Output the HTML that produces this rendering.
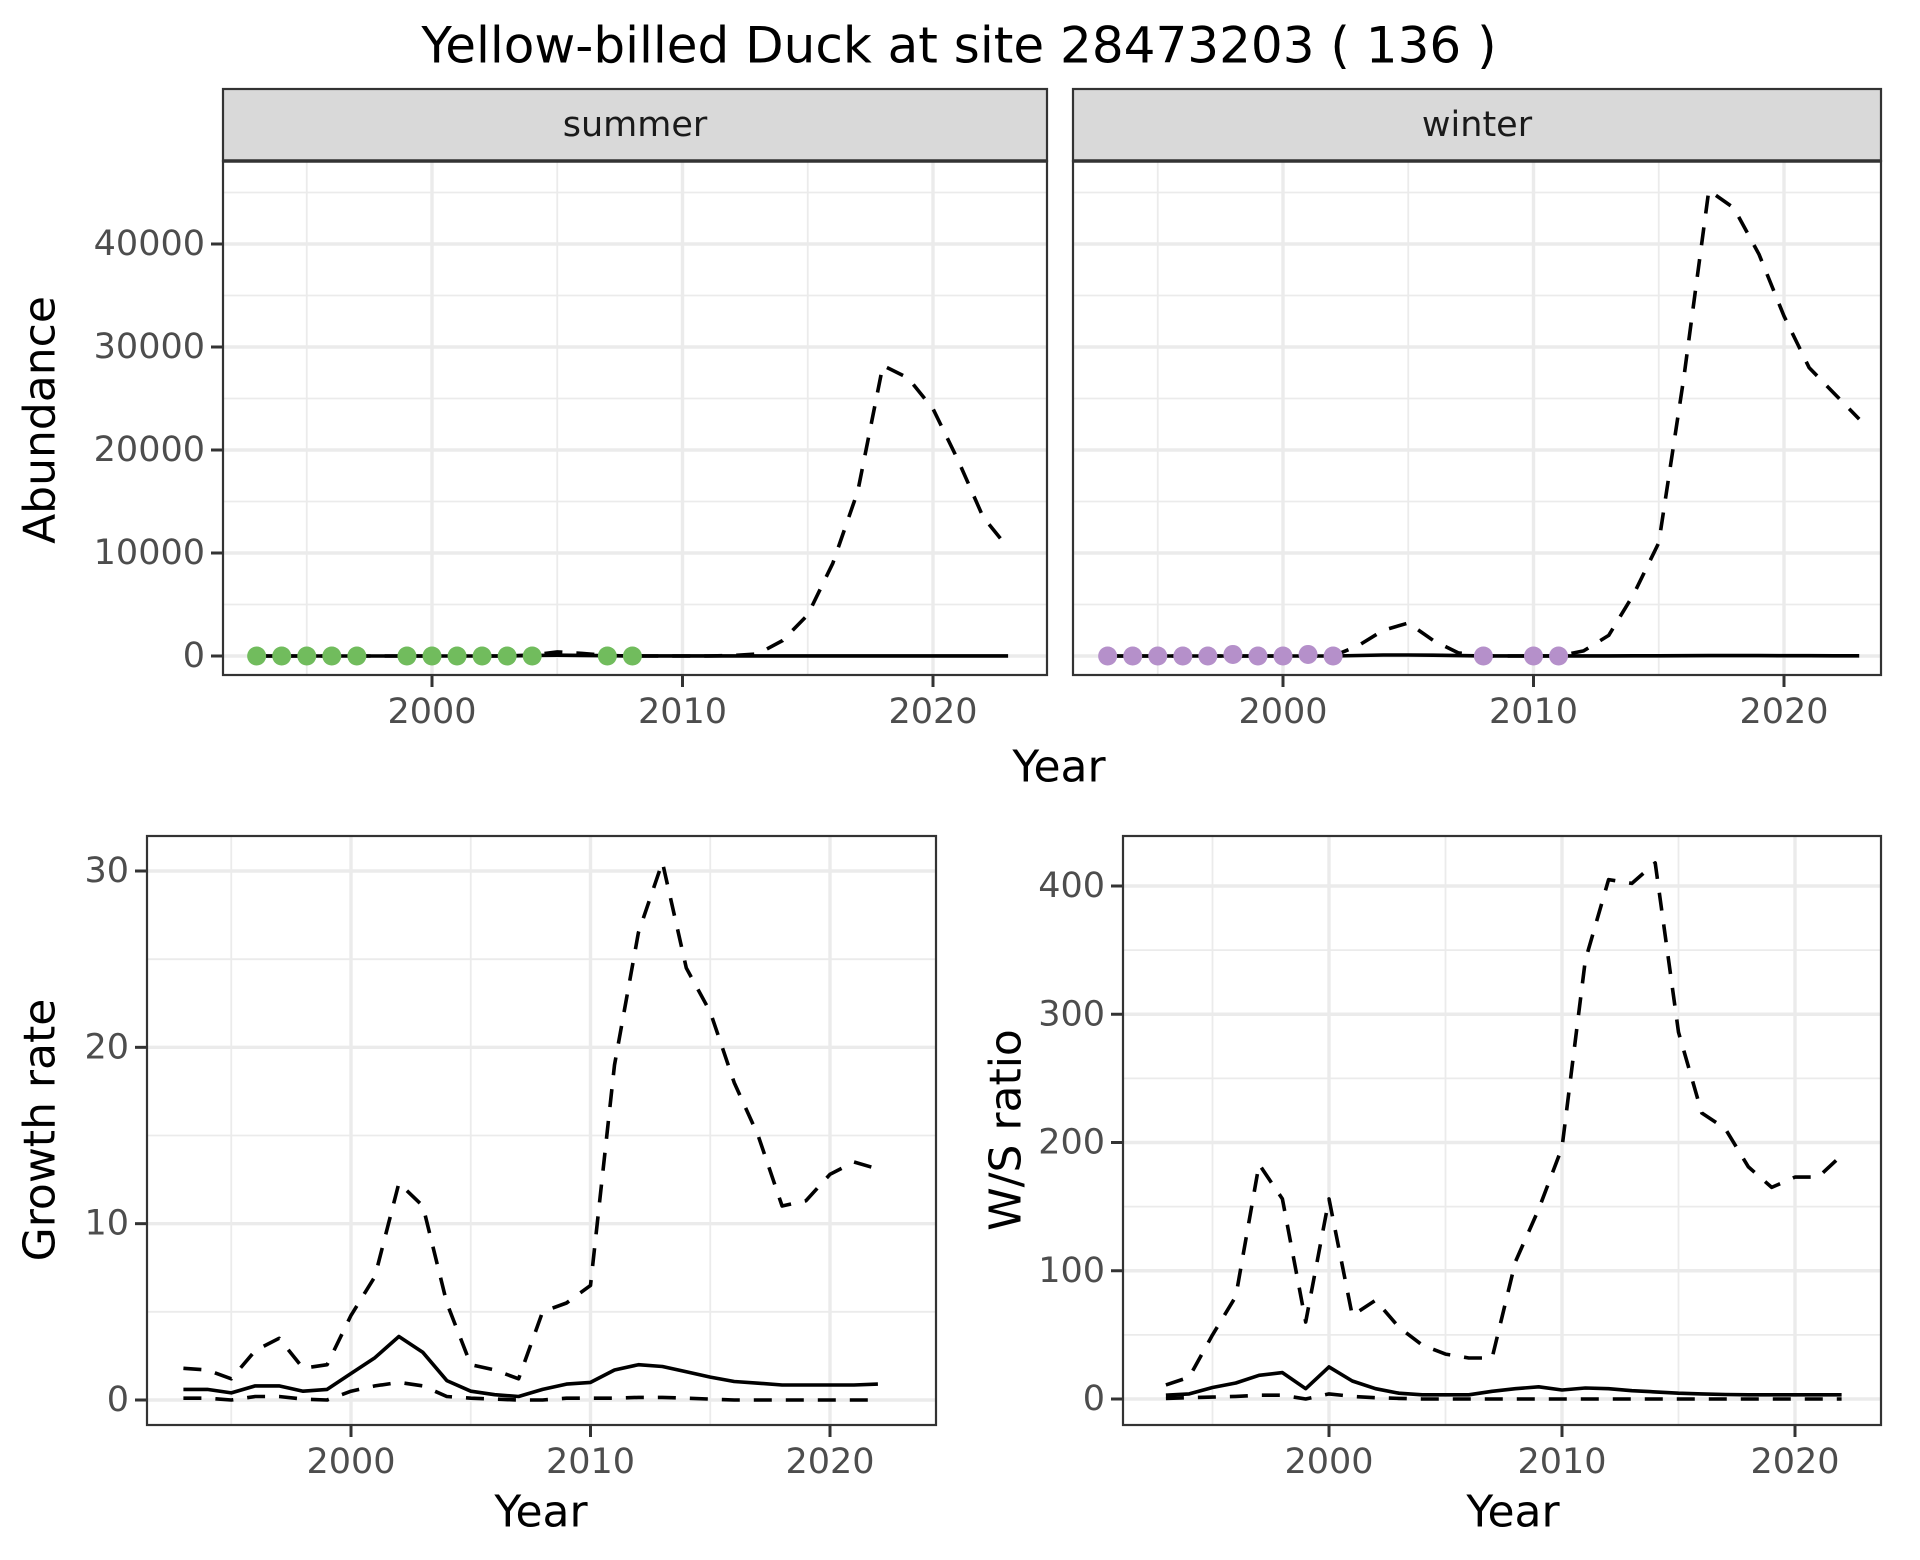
<!DOCTYPE html>
<html><head><meta charset="utf-8"><style>
html,body{margin:0;padding:0;background:#fff}
svg{display:block;font-family:"DejaVu Sans","Liberation Sans",sans-serif}
</style></head><body>
<svg id="c" width="1920" height="1560" xmlns="http://www.w3.org/2000/svg">
<rect width="1920" height="1560" fill="#fff"/>
<text x="959" y="49" font-size="50" text-anchor="middle" dominant-baseline="middle" fill="#000">Yellow-billed Duck at site 28473203 ( 136 )</text>
</svg>
<script>
const years = [1993,1994,1995,1996,1997,1998,1999,2000,2001,2002,2003,2004,2005,2006,2007,2008,2009,2010,2011,2012,2013,2014,2015,2016,2017,2018,2019,2020,2021,2022,2023];
const summerUpper = [0,0,0,0,0,0,0,0,0,0,0,100,400,250,50,0,0,0,0,50,200,1500,4000,9000,16000,28200,27000,24000,19000,13500,10500];
const summerMean = [0,0,0,0,0,0,0,0,0,0,0,50,80,60,30,10,10,10,10,10,10,10,10,10,10,10,10,10,10,10,10];
const summerObsYears = [1993,1994,1995,1996,1997,1999,2000,2001,2002,2003,2004,2007,2008];
const summerObs = [0,0,0,0,0,0,0,0,0,0,0,0,0];
const winterUpper = [0,0,0,0,0,0,0,0,0,0,1000,2500,3200,1500,300,0,0,0,0,500,2000,6000,11000,27000,45200,43500,39000,33000,28000,25500,23000];
const winterMean = [0,0,0,0,0,0,0,0,0,0,50,100,100,80,40,10,10,10,10,10,10,20,20,30,40,40,40,30,30,20,20];
const winterObsYears = [1993,1994,1995,1996,1997,1998,1999,2000,2001,2002,2008,2010,2011];
const winterObs = [0,0,0,0,0,150,0,0,150,0,0,0,0];
const gYears = [1993,1994,1995,1996,1997,1998,1999,2000,2001,2002,2003,2004,2005,2006,2007,2008,2009,2010,2011,2012,2013,2014,2015,2016,2017,2018,2019,2020,2021,2022];
const growthUpper = [1.8,1.7,1.2,2.8,3.5,1.8,2.0,4.8,7.0,12.3,11.0,5.5,2.0,1.7,1.2,5.0,5.5,6.5,19,26.5,30.5,24.5,22,18,15,11,11.3,12.8,13.5,13.1];
const growthMean = [0.6,0.6,0.4,0.8,0.8,0.5,0.6,1.5,2.4,3.6,2.7,1.1,0.5,0.3,0.2,0.6,0.9,1.0,1.7,2.0,1.9,1.6,1.3,1.05,0.95,0.85,0.85,0.85,0.85,0.9];
const growthLower = [0.1,0.1,0,0.2,0.2,0.05,0,0.5,0.8,1.0,0.8,0.2,0.1,0.05,0,0,0.1,0.1,0.1,0.15,0.15,0.1,0.05,0,0,0,0,0,0,0];
const ratioUpper = [11,17,50,80,183,156,60,156,65,77,56,42,35,32,32,107,148,196,342,405,402,418,286,223,211,181,165,173,173,190];
const ratioMean = [3,4,9,12.5,18.5,20.6,8,25,14,8,4.5,3.3,3.3,3.3,6,8,9.5,7,8.6,8,6.5,5.5,4.5,4,3.5,3.3,3.3,3.3,3.3,3.3];
const ratioLower = [0.5,1,1.5,2,3,3,0,4,2,1,0.5,0,0,0,0,0,0,0,0,0,0,0,0,0,0,0,0,0,0,0];
const topYTicks = [0,10000,20000,30000,40000];
const topYMinor = [5000,15000,25000,35000,45000];
const xTicks = [2000,2010,2020];
const xMinor = [1995,2005,2015];
const gYTicks = [0,10,20,30];
const gYMinor = [5,15,25];
const rYTicks = [0,100,200,300,400];
const rYMinor = [50,150,250,350];

const svg = document.getElementById('c');
const NS = 'http://www.w3.org/2000/svg';
function mk(tag, attrs, parent){
  const e = document.createElementNS(NS, tag);
  for (const k in attrs) e.setAttribute(k, attrs[k]);
  (parent||svg).appendChild(e);
  return e;
}
function lin(d0,d1,r0,r1){return v => r0 + (v-d0)/(d1-d0)*(r1-r0);}

function panel(o){
  const g = mk('g', {});
  
  
  const X = o.x, Y = o.y;
  mk('rect', {x:o.l, y:o.t, width:o.r-o.l, height:o.b-o.t, fill:'#fff'}, g);
  o.yMinor.forEach(v=>{ const l = mk('line',{x1:o.l,x2:o.r,y1:Y(v),y2:Y(v),stroke:'#EBEBEB','stroke-width':1.8},g);
      });
  o.xMinor.forEach(v=>{ const l = mk('line',{y1:o.t,y2:o.b,x1:X(v),x2:X(v),stroke:'#EBEBEB','stroke-width':1.8},g);
      });
  o.yTicks.forEach(v=>{ const l = mk('line',{x1:o.l,x2:o.r,y1:Y(v),y2:Y(v),stroke:'#EBEBEB','stroke-width':3.4},g);
      });
  o.xTicks.forEach(v=>{ const l = mk('line',{y1:o.t,y2:o.b,x1:X(v),x2:X(v),stroke:'#EBEBEB','stroke-width':3.4},g);
      });
  o.series.forEach(s=>{
    const pts = s.xs.map((xv,i)=>X(xv).toFixed(1)+','+Y(s.ys[i]).toFixed(1)).join(' ');
    const p = mk('polyline',{points:pts,fill:'none',stroke:'#000','stroke-width':3.6,'stroke-linejoin':'round','stroke-dasharray':s.dash?'18,14':'none'},g);
    
    
  });
  if (o.points){
    o.points.xs.forEach((xv,i)=>{
      const c = mk('circle',{cx:X(xv),cy:Y(o.points.ys[i]),r:9.5,fill:o.points.color},g);
      
      
    });
  }
  mk('rect',{x:o.l,y:o.t,width:o.r-o.l,height:o.b-o.t,fill:'none',stroke:'#333','stroke-width':2.2},g);
  if (o.showY){
    o.yTicks.forEach(v=>{
      mk('line',{x1:o.l-12,x2:o.l,y1:Y(v),y2:Y(v),stroke:'#333','stroke-width':3},g);
      const t = mk('text',{x:o.l-18,y:Y(v),'font-size':35,'text-anchor':'end','dominant-baseline':'central',fill:'#4D4D4D'},g);
      t.textContent = String(v);
       
    });
  }
  o.xTicks.forEach(v=>{
    mk('line',{x1:X(v),x2:X(v),y1:o.b,y2:o.b+12,stroke:'#333','stroke-width':3},g);
    const t = mk('text',{x:X(v),y:o.b+37,'font-size':35,'text-anchor':'middle','dominant-baseline':'central',fill:'#4D4D4D'},g);
    t.textContent = String(v);
     
  });
  if (o.strip){
    const sr = mk('rect',{x:o.l,y:o.st,width:o.r-o.l,height:o.t-o.st,fill:'#D9D9D9',stroke:'#333','stroke-width':2.2},g);
     
    mk('line',{x1:o.l,x2:o.r,y1:o.t,y2:o.t,stroke:'#333','stroke-width':3.5},g);
    const st = mk('text',{x:(o.l+o.r)/2,y:(o.st+o.t)/2,'font-size':35,'text-anchor':'middle','dominant-baseline':'central',fill:'#1A1A1A'},g);
    st.textContent = o.strip;
     
  }
}
function label(txt,x,y,rot,name){
  const t = mk('text',{x:x,y:y,'font-size':44,'text-anchor':'middle','dominant-baseline':'central',fill:'#000',transform:rot?`rotate(-90 ${x} ${y})`:''});
  t.textContent = txt;
  
  
}

const topY = lin(0,40000,656,244);
const sX = lin(2000,2020,432,933);
panel({name:'summer-panel',l:223,r:1047,t:161,b:675,st:89,strip:'summer',x:sX,y:topY,showY:true,
  xTicks:xTicks,xMinor:xMinor,yTicks:topYTicks,yMinor:topYMinor,
  series:[{xs:years,ys:summerUpper,dash:true,name:'summer-upper-bound'},{xs:years,ys:summerMean,dash:false,name:'summer-mean'}],
  points:{xs:summerObsYears,ys:summerObs,color:'#71BC5D'}});
const wX = lin(2000,2020,1283,1784);
panel({name:'winter-panel',l:1073,r:1881,t:161,b:675,st:89,strip:'winter',x:wX,y:topY,showY:false,
  xTicks:xTicks,xMinor:xMinor,yTicks:topYTicks,yMinor:topYMinor,
  series:[{xs:years,ys:winterUpper,dash:true,name:'winter-upper-bound'},{xs:years,ys:winterMean,dash:false,name:'winter-mean'}],
  points:{xs:winterObsYears,ys:winterObs,color:'#B590CA'}});
label('Abundance',40,420,true,'y-axis-title-abundance');
label('Year',1059,767,false,'x-axis-title-top');

panel({name:'growth-panel',l:147,r:936,t:836,b:1425,x:lin(2000,2020,351,830),y:lin(0,30,1400,871),showY:true,
  xTicks:xTicks,xMinor:xMinor,yTicks:gYTicks,yMinor:gYMinor,
  series:[{xs:gYears,ys:growthUpper,dash:true,name:'growth-upper-bound'},{xs:gYears,ys:growthLower,dash:true,name:'growth-lower-bound'},{xs:gYears,ys:growthMean,dash:false,name:'growth-mean'}]});
label('Growth rate',40,1130,true,'y-axis-title-growth');
label('Year',541,1512,false,'x-axis-title-growth');

panel({name:'ratio-panel',l:1123,r:1881,t:836,b:1425,x:lin(2000,2010,1329,1562),y:lin(0,400,1399,886),showY:true,
  xTicks:xTicks,xMinor:xMinor,yTicks:rYTicks,yMinor:rYMinor,
  series:[{xs:gYears,ys:ratioUpper,dash:true,name:'ratio-upper-bound'},{xs:gYears,ys:ratioLower,dash:true,name:'ratio-lower-bound'},{xs:gYears,ys:ratioMean,dash:false,name:'ratio-mean'}]});
label('W/S ratio',1006,1130,true,'y-axis-title-ratio');
label('Year',1513,1512,false,'x-axis-title-ratio');
</script>
</body></html>
